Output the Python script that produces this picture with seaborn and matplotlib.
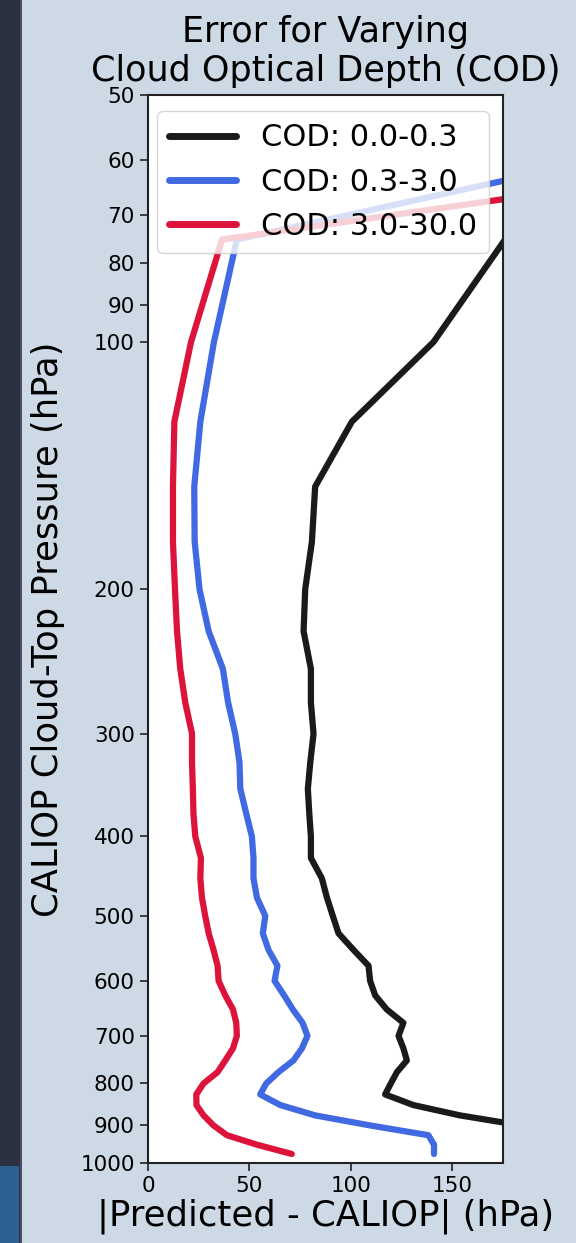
import numpy as np
import pandas as pd
import matplotlib
matplotlib.use("Agg")
import matplotlib.pyplot as plt
import matplotlib.ticker as mticker
from matplotlib.patches import Rectangle
import seaborn as sns

# Pressure bins (hPa), 25 hPa spacing
pressure = [50, 75, 100, 125, 150, 175, 200, 225, 250, 275, 300, 325, 350, 375,
            400, 425, 450, 475, 500, 525, 550, 575, 600, 625, 650, 675, 700,
            725, 750, 775, 800, 825, 850, 875, 900, 925, 950, 975]

# Mean absolute error per bin for each COD range (hPa)
err_thin = [350, 176, 140.7, 100.5, 82.4, 80.8, 77.5, 76.7, 80.3, 80.3, 81.6,
            80.0, 78.8, 79.5, 80.3, 80.3, 85.7, 88.2, 91.1, 93.9, 101.3, 108.7,
            109.5, 112.0, 117.7, 125.9, 123.5, 125.9, 127.6, 122.7, 119.7, 116.9,
            130.8, 153.8, 184.0, 230.0, 280.0, 320.0]
err_mid = [367, 43.8, 32.5, 25.8, 22.8, 23.0, 25.4, 29.9, 36.9, 39.5, 43.0,
           45.1, 45.5, 48.4, 51.2, 52.0, 52.0, 53.7, 57.8, 56.6, 59.4, 63.8,
           62.4, 67.1, 71.4, 76.2, 78.6, 75.9, 71.7, 64.3, 58.3, 55.3, 65.2,
           82.4, 109.5, 138.2, 141.0, 141.0]
err_thick = [533, 36.5, 21.2, 13.0, 12.3, 12.3, 13.3, 14.3, 15.9, 18.4, 21.7,
             21.7, 22.1, 22.4, 23.3, 26.1, 25.8, 26.6, 28.2, 29.9, 32.3, 34.3,
             34.8, 38.1, 41.9, 43.5, 43.8, 41.9, 38.1, 34.3, 27.4, 23.8, 23.9,
             27.4, 32.3, 38.9, 53.7, 70.9]

labels = ["COD: 0.0-0.3", "COD: 0.3-3.0", "COD: 3.0-30.0"]
colors = ["#1a1a1a", "royalblue", "crimson"]

yticks = [50, 60, 70, 80, 90, 100, 200, 300, 400, 500, 600, 700, 800, 900, 1000]
xticks = [0, 50, 100, 150]

df = pd.concat([
    pd.DataFrame({"pressure": pressure, "error": e, "COD": lab})
    for e, lab in zip([err_thin, err_mid, err_thick], labels)
], ignore_index=True)

sns.set_style("ticks")
plt.rcParams["font.family"] = ["DejaVu Sans"]
plt.rcParams["text.color"] = "black"
plt.rcParams["axes.labelcolor"] = "black"
plt.rcParams["xtick.color"] = "black"
plt.rcParams["ytick.color"] = "black"

bg = "#cddae6"
fig = plt.figure(figsize=(5.76, 12.43), dpi=100, facecolor=bg)

# window-side strip
fig.patches.append(Rectangle((0, 0), 20 / 576, 1, transform=fig.transFigure,
                             facecolor="#2b3140", edgecolor="none", zorder=0))
fig.patches.append(Rectangle((0, 0), 19 / 576, 77 / 1243, transform=fig.transFigure,
                             facecolor="#2d5f91", edgecolor="none", zorder=1))
fig.patches.append(Rectangle((20 / 576, 0), 1.5 / 576, 1, transform=fig.transFigure,
                             facecolor="#4a4d63", edgecolor="none", zorder=1))

ax = fig.add_axes([148 / 576, 1 - 1163 / 1243, 355 / 576, 1068 / 1243])
ax.set_facecolor("white")

sns.lineplot(data=df, x="error", y="pressure", hue="COD", hue_order=labels,
             palette=colors, estimator=None, sort=False, orient="y",
             lw=4.5, ax=ax)

ax.set_yscale("log")
ax.set_ylim(1000, 50)
ax.set_xlim(0, 175)
ax.yaxis.set_major_locator(mticker.FixedLocator(yticks))
ax.yaxis.set_major_formatter(mticker.FixedFormatter([str(t) for t in yticks]))
ax.yaxis.set_minor_locator(mticker.NullLocator())
ax.set_xticks(xticks)
ax.tick_params(axis="both", labelsize=15.5, length=6, width=1.2, color="#222222")
for s in ax.spines.values():
    s.set_linewidth(1.5)
    s.set_color("#222222")

ax.set_title("Error for Varying\nCloud Optical Depth (COD)", fontsize=25.2, pad=10)
ax.set_ylabel("CALIOP Cloud-Top Pressure (hPa)", fontsize=25.5, labelpad=11)
ax.set_xlabel("|Predicted - CALIOP| (hPa)", fontsize=25.5, labelpad=2)

leg = ax.legend(loc="upper left", bbox_to_anchor=(0.025, 0.985), borderaxespad=0,
                fontsize=22, framealpha=0.8, handlelength=2.2)
for line in leg.get_lines():
    line.set_linewidth(5)

fig.savefig("out.png", dpi=100, facecolor=bg)
